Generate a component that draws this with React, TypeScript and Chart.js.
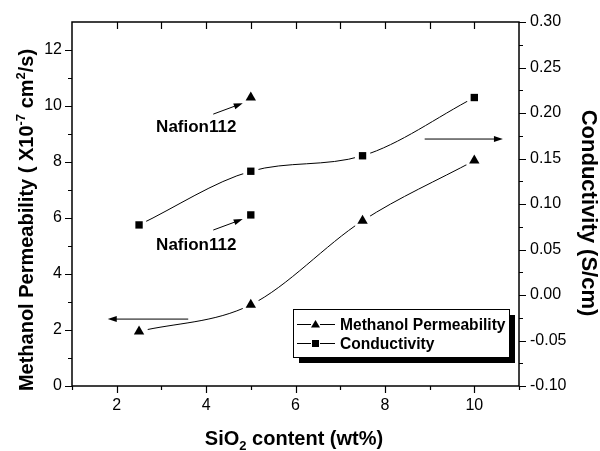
import React, { useEffect, useRef } from 'react';
import { Chart, registerables } from 'chart.js';

Chart.register(...registerables);

// ---- data ----
const silicaContent = [2.5, 5, 7.5, 10];
const methanolPermeability = [1.95, 2.9, 5.9, 8.05];
const conductivity = [0.077, 0.136, 0.153, 0.217];
const nafionContent = [5];
const nafionPermeability = [10.3];
const nafionConductivity = [0.088];
const xTickLabels = [2, 4, 6, 8, 10];
const leftTickLabels = [0, 2, 4, 6, 8, 10, 12];
const rightTickLabels = [-0.1, -0.05, 0, 0.05, 0.1, 0.15, 0.2, 0.25, 0.3];
const seriesNames = ['Methanol Permeability', 'Conductivity'];
const nafionLabel = 'Nafion112';

const FONT = '"Liberation Sans", Arial, Helvetica, sans-serif';

type Part = { t: string; sup?: boolean; sub?: boolean };

function drawRich(ctx: CanvasRenderingContext2D, parts: Part[], x: number, y: number, size: number) {
  const small = size * 0.65;
  let total = 0;
  const widths = parts.map((p) => {
    ctx.font = `bold ${p.sup || p.sub ? small : size}px ${FONT}`;
    const w = ctx.measureText(p.t).width;
    total += w;
    return w;
  });
  let cx = x - total / 2;
  ctx.textAlign = 'left';
  ctx.textBaseline = 'alphabetic';
  parts.forEach((p, i) => {
    ctx.font = `bold ${p.sup || p.sub ? small : size}px ${FONT}`;
    const dy = p.sup ? -size * 0.38 : p.sub ? size * 0.25 : 0;
    ctx.fillText(p.t, cx, y + dy);
    cx += widths[i];
  });
}

function arrow(ctx: CanvasRenderingContext2D, x0: number, y0: number, x1: number, y1: number) {
  const ang = Math.atan2(y1 - y0, x1 - x0);
  const len = 9, hw = 3;
  ctx.beginPath();
  ctx.moveTo(x0, y0);
  ctx.lineTo(x1 - Math.cos(ang) * len * 0.8, y1 - Math.sin(ang) * len * 0.8);
  ctx.stroke();
  ctx.beginPath();
  ctx.moveTo(x1, y1);
  ctx.lineTo(x1 - Math.cos(ang) * len - Math.sin(ang) * hw, y1 - Math.sin(ang) * len + Math.cos(ang) * hw);
  ctx.lineTo(x1 - Math.cos(ang) * len + Math.sin(ang) * hw, y1 - Math.sin(ang) * len - Math.cos(ang) * hw);
  ctx.closePath();
  ctx.fill();
}

// annotation anchors in data units (x, left-axis y)
const annotationArrows = [
  [4.16, 9.71, 4.82, 10.1],
  [4.16, 5.57, 4.82, 5.96],
  [3.6, 2.39, 1.8, 2.39],
  [8.89, 8.82, 10.64, 8.82],
];
const annotationTexts = [
  [3.78, 9.08],
  [3.78, 4.86],
];

const overlay = {
  id: 'overlay',
  afterDraw(chart: any) {
    const { ctx, chartArea: a, scales } = chart;
    const sx = scales.x, sy = scales.y, sy1 = scales.y1;
    ctx.save();
    ctx.strokeStyle = '#000';
    ctx.fillStyle = '#000';

    // ticks
    ctx.lineWidth = 1.2;
    ctx.beginPath();
    for (let v = 1; v <= 11; v++) {
      const px = Math.round(sx.getPixelForValue(v)) + 0.5;
      const len = v % 2 === 0 ? 7 : 4;
      ctx.moveTo(px, a.bottom);
      ctx.lineTo(px, a.bottom + len);
      if (v > 1 && v < 11) {
        ctx.moveTo(px, a.top);
        ctx.lineTo(px, a.top + 7);
      }
    }
    for (let v = 0; v <= 12; v++) {
      const py = Math.round(sy.getPixelForValue(v)) + 0.5;
      const len = v % 2 === 0 ? 7 : 4;
      ctx.moveTo(a.left, py);
      ctx.lineTo(a.left - len, py);
    }
    for (let i = 0; i <= 16; i++) {
      const v = -0.1 + i * 0.025;
      const py = Math.round(sy1.getPixelForValue(v)) + 0.5;
      const len = i % 2 === 0 ? 7 : 4;
      ctx.moveTo(a.right, py);
      ctx.lineTo(a.right + len, py);
    }
    ctx.stroke();

    // frame
    ctx.lineWidth = 1.5;
    ctx.strokeRect(a.left, a.top, a.right - a.left, a.bottom - a.top);

    // arrows
    ctx.lineWidth = 1;
    annotationArrows.forEach(([x0, y0, x1, y1]) => {
      arrow(ctx, sx.getPixelForValue(x0), sy.getPixelForValue(y0), sx.getPixelForValue(x1), sy.getPixelForValue(y1));
    });
    ctx.font = `bold 17px ${FONT}`;
    ctx.textAlign = 'center';
    ctx.textBaseline = 'alphabetic';
    annotationTexts.forEach(([x, y]) => {
      ctx.fillText(nafionLabel, sx.getPixelForValue(x), sy.getPixelForValue(y));
    });

    // legend
    const lx = 293, ly = 309, lw = 216, lh = 48;
    ctx.fillRect(lx + 6, ly + 6, lw, lh);
    ctx.fillStyle = '#fff';
    ctx.fillRect(lx, ly, lw, lh);
    ctx.fillStyle = '#000';
    ctx.lineWidth = 1;
    ctx.strokeRect(lx + 0.5, ly + 0.5, lw, lh);
    const rows = [ly + 15, ly + 34];
    rows.forEach((ry, i) => {
      ctx.beginPath();
      ctx.moveTo(lx + 4, ry + 0.5);
      ctx.lineTo(lx + 18, ry + 0.5);
      ctx.moveTo(lx + 27, ry + 0.5);
      ctx.lineTo(lx + 42, ry + 0.5);
      ctx.stroke();
      const mx = lx + 22.5;
      ctx.beginPath();
      if (i === 0) {
        ctx.moveTo(mx, ry - 4);
        ctx.lineTo(mx + 4.5, ry + 3.5);
        ctx.lineTo(mx - 4.5, ry + 3.5);
        ctx.closePath();
      } else {
        ctx.rect(mx - 3.5, ry - 3, 7, 7);
      }
      ctx.fill();
      ctx.font = `bold 15.6px ${FONT}`;
      ctx.textAlign = 'left';
      ctx.textBaseline = 'alphabetic';
      ctx.fillText(seriesNames[i], lx + 47, ry + 6);
    });

    // axis titles
    ctx.save();
    ctx.translate(33, 220);
    ctx.rotate(-Math.PI / 2);
    drawRich(ctx, [
      { t: 'Methanol Permeability ( X10' },
      { t: '-7', sup: true },
      { t: ' cm' },
      { t: '2', sup: true },
      { t: '/s)' },
    ], 0, 0, 20);
    ctx.restore();

    ctx.save();
    ctx.translate(582, 213);
    ctx.rotate(Math.PI / 2);
    drawRich(ctx, [{ t: 'Conductivity (S/cm)' }], 0, 0, 22);
    ctx.restore();

    drawRich(ctx, [
      { t: 'SiO' },
      { t: '2', sub: true },
      { t: ' content (wt%)' },
    ], 294, 445, 20);

    ctx.restore();
  },
};

function toXY(xs: number[], ys: number[]) {
  return xs.map((x, i) => ({ x, y: ys[i] }));
}

export default function App() {
  const ref = useRef<HTMLCanvasElement | null>(null);
  useEffect(() => {
    if (!ref.current) return;
    const permData = toXY(silicaContent, methanolPermeability);
    const condData = toXY(silicaContent, conductivity);
    const chart = new Chart(ref.current, {
      type: 'scatter',
      data: {
        datasets: [
          { label: 'permLine', data: permData, yAxisID: 'y', showLine: true, borderColor: '#000', borderWidth: 1, pointRadius: 0, cubicInterpolationMode: 'monotone', order: 3 },
          { label: 'condLine', data: condData, yAxisID: 'y1', showLine: true, borderColor: '#000', borderWidth: 1, pointRadius: 0, cubicInterpolationMode: 'monotone', order: 3 },
          { label: 'permHalo', data: permData, yAxisID: 'y', showLine: false, pointStyle: 'circle', pointRadius: 9, pointBackgroundColor: '#fff', pointBorderColor: '#fff', pointBorderWidth: 0, order: 2 },
          { label: 'condHalo', data: condData, yAxisID: 'y1', showLine: false, pointStyle: 'circle', pointRadius: 8, pointBackgroundColor: '#fff', pointBorderColor: '#fff', pointBorderWidth: 0, order: 2 },
          { label: seriesNames[0], data: permData, yAxisID: 'y', showLine: false, pointStyle: 'triangle', pointRadius: 6, pointBackgroundColor: '#000', pointBorderColor: '#000', pointBorderWidth: 0, order: 1 },
          { label: seriesNames[1], data: condData, yAxisID: 'y1', showLine: false, pointStyle: 'rect', pointRadius: 5.2, pointBackgroundColor: '#000', pointBorderColor: '#000', pointBorderWidth: 0, order: 1 },
          { label: 'nafionPerm', data: toXY(nafionContent, nafionPermeability), yAxisID: 'y', showLine: false, pointStyle: 'triangle', pointRadius: 6, pointBackgroundColor: '#000', pointBorderWidth: 0, order: 1 },
          { label: 'nafionCond', data: toXY(nafionContent, nafionConductivity), yAxisID: 'y1', showLine: false, pointStyle: 'rect', pointRadius: 5.2, pointBackgroundColor: '#000', pointBorderWidth: 0, order: 1 },
        ],
      },
      options: {
        animation: false,
        responsive: true,
        maintainAspectRatio: false,
        events: [],
        layout: { padding: { top: 22, left: 0, right: 0, bottom: 0 } },
        plugins: { legend: { display: false }, tooltip: { enabled: false } },
        scales: {
          x: {
            type: 'linear',
            min: 1,
            max: 11,
            grid: { display: false, drawTicks: false },
            border: { display: false },
            afterFit: (s: any) => { s.height = 65; },
            afterBuildTicks: (s: any) => { s.ticks = xTickLabels.map((v) => ({ value: v })); },
            ticks: { padding: 10, color: '#000', font: { family: FONT, size: 16 }, autoSkip: false, maxRotation: 0, callback: (v: any) => String(v) },
          },
          y: {
            type: 'linear',
            position: 'left',
            min: 0,
            max: 13,
            grid: { display: false, drawTicks: false },
            border: { display: false },
            afterFit: (s: any) => { s.width = 72; },
            afterBuildTicks: (s: any) => { s.ticks = leftTickLabels.map((v) => ({ value: v })); },
            ticks: { padding: 10, color: '#000', font: { family: FONT, size: 16 }, callback: (v: any) => String(v) },
          },
          y1: {
            type: 'linear',
            position: 'right',
            min: -0.1,
            max: 0.3,
            grid: { display: false, drawTicks: false },
            border: { display: false },
            afterFit: (s: any) => { s.width = 81; },
            afterBuildTicks: (s: any) => { s.ticks = rightTickLabels.map((v) => ({ value: v })); },
            ticks: { padding: 11, color: '#000', font: { family: FONT, size: 16 }, callback: (v: any) => Number(v).toFixed(2) },
          },
        },
      },
      plugins: [overlay],
    } as any);
    return () => chart.destroy();
  }, []);
  return (
    <div style={{ position: 'absolute', left: 0, top: 0, width: 600, height: 451, background: '#fff' }}>
      <canvas ref={ref} />
    </div>
  );
}
